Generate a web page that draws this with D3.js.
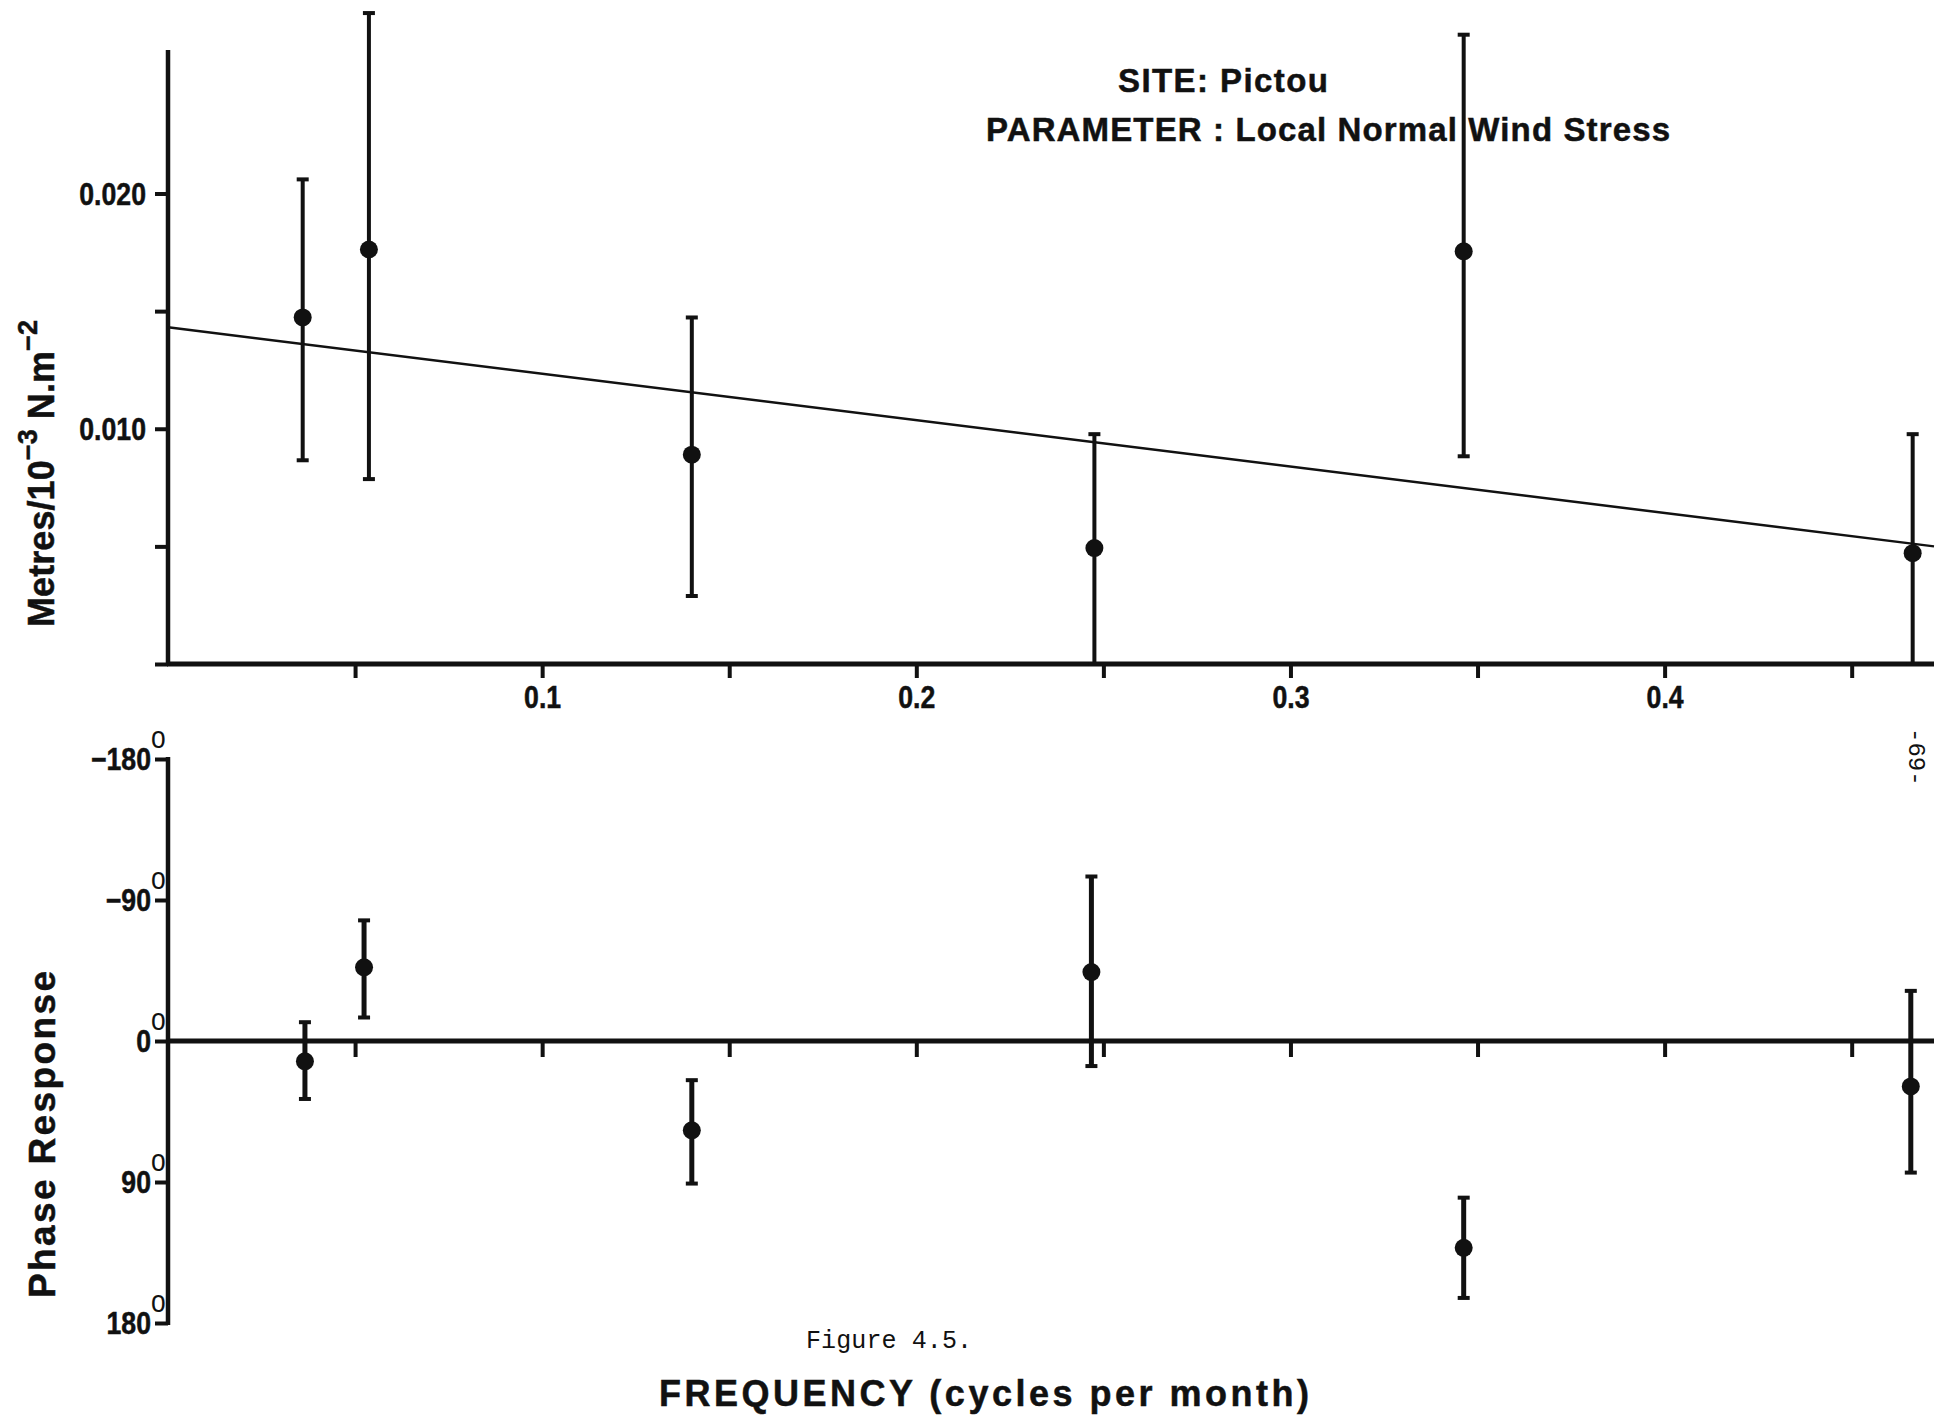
<!DOCTYPE html>
<html>
<head>
<meta charset="utf-8">
<script src="https://cdnjs.cloudflare.com/ajax/libs/d3/7.8.5/d3.min.js"></script>
<style>
  body { margin: 0; background: #fff; }
  svg text { fill: #111; }
  .lab { font-family: 'Liberation Sans', Arial, sans-serif; font-weight: bold; stroke: #111; stroke-width: 0.5px; }
  .ylab { font-family: 'Liberation Sans', Arial, sans-serif; font-weight: bold; stroke: #111; stroke-width: 0.5px; }
</style>
</head>
<body>
<div id="figure"></div>
<script>
// Amplitude response (metres per 10^-3 N.m^-2) against frequency (cycles per month)
var ampFreq  = [0.036, 0.0537, 0.140, 0.2476, 0.3463, 0.4663];
var ampValue = [0.01473, 0.01762, 0.0089, 0.00493, 0.01754, 0.00471];
var ampLow   = [0.00866, 0.00786, 0.00289, 0.0, 0.00883, 0.0];
var ampHigh  = [0.0206, 0.02767, 0.01473, 0.00977, 0.02675, 0.00977];

// fitted straight line through the amplitudes
var trendFreq  = [0, 0.472];
var trendValue = [0.01431, 0.0050];

// Phase response (degrees), positive is plotted downwards
var phaseFreq  = [0.0366, 0.0524, 0.140, 0.2468, 0.3463, 0.4658];
var phaseValue = [13, -47, 57, -44, 132, 29];
var phaseLow   = [-12, -77, 25, -105, 100, -32];
var phaseHigh  = [37, -15, 91, 16, 164, 84];

// ticks
var freqTicks  = [0.05, 0.1, 0.15, 0.2, 0.25, 0.3, 0.35, 0.4, 0.45];
var freqLabels = [0.1, 0.2, 0.3, 0.4];
var ampTicks   = [0, 0.005, 0.01, 0.015, 0.02];
var ampLabels  = [0.01, 0.02];
var phaseTicks = [-180, -90, 0, 90, 180];

var W = 1959, H = 1421;
var NARROW = 0.86; // horizontal squeeze to mimic the condensed numerals

var svg = d3.select('#figure').append('svg')
    .attr('width', W)
    .attr('height', H)
    .style('background', '#fff');

// shared frequency scale, the two panels use separate y scales
var x = d3.scaleLinear().domain([0, 0.472]).range([168, 1934]);
var yAmp = d3.scaleLinear().domain([0, 0.0261]).range([664, 50]);
var yPhase = d3.scaleLinear().domain([-180, 180]).range([759, 1323]);

top_panel();
bottom_panel();
annotations();

function top_panel(){
    // x axis with long ticks underneath
    var gx = svg.append('g')
        .attr('transform', 'translate(0,' + yAmp(0) + ')')
        .call(d3.axisBottom(x)
            .tickValues(freqTicks)
            .tickSize(14)
            .tickSizeOuter(0)
            .tickPadding(8)
            .tickFormat(function(d){ return freqLabels.indexOf(d) >= 0 ? d3.format('.1f')(d) : ''; }));
    style_axis(gx);
    condense(gx.selectAll('text'));

    svg.append('line')
        .attr('x1', x(0) - 1).attr('x2', x(0.472))
        .attr('y1', yAmp(0)).attr('y2', yAmp(0))
        .attr('stroke', '#111').attr('stroke-width', 5);

    // y axis
    var gy = svg.append('g')
        .attr('transform', 'translate(' + x(0) + ',0)')
        .call(d3.axisLeft(yAmp)
            .tickValues(ampTicks)
            .tickSize(13)
            .tickSizeOuter(0)
            .tickPadding(9)
            .tickFormat(function(d){ return ampLabels.indexOf(d) >= 0 ? d3.format('.3f')(d) : ''; }));
    style_axis(gy);
    gy.selectAll('text').attr('dy', '0.36em');
    condense(gy.selectAll('text'));

    svg.append('line')
        .attr('x1', x(0)).attr('x2', x(0))
        .attr('y1', yAmp(0) + 2).attr('y2', yAmp(0.0261))
        .attr('stroke', '#111').attr('stroke-width', 4.5);

    // fitted line
    var line = d3.line()
        .x(function(d, i){ return x(trendFreq[i]); })
        .y(function(d, i){ return yAmp(trendValue[i]); });
    svg.append('path')
        .datum(trendFreq)
        .attr('d', line)
        .attr('fill', 'none')
        .attr('stroke', '#111')
        .attr('stroke-width', 2.5);

    draw_errorbars(svg.append('g'), ampFreq, ampValue, ampLow, ampHigh, yAmp, 4);

    // y label
    var t = svg.append('text')
        .attr('class', 'ylab')
        .attr('transform', 'translate(54,627) rotate(-90)')
        .attr('font-size', 36)
        .attr('textLength', 307)
        .attr('lengthAdjust', 'spacing');
    t.append('tspan').text('Metres/10');
    t.append('tspan').attr('font-size', 27).attr('dy', -17).text('\u22123');
    t.append('tspan').attr('dy', 17).text(' N.m');
    t.append('tspan').attr('font-size', 27).attr('dy', -17).text('\u22122');
}

function bottom_panel(){
    // zero line with ticks hanging below it
    var gx = svg.append('g')
        .attr('transform', 'translate(0,' + yPhase(0) + ')')
        .call(d3.axisBottom(x)
            .tickValues(freqTicks)
            .tickSize(16)
            .tickSizeOuter(0)
            .tickFormat(''));
    style_axis(gx);

    svg.append('line')
        .attr('x1', x(0)).attr('x2', x(0.472))
        .attr('y1', yPhase(0)).attr('y2', yPhase(0))
        .attr('stroke', '#111').attr('stroke-width', 5);

    var gy = svg.append('g')
        .attr('transform', 'translate(' + x(0) + ',0)')
        .call(d3.axisLeft(yPhase)
            .tickValues(phaseTicks)
            .tickSize(13)
            .tickSizeOuter(0)
            .tickFormat(''));
    style_axis(gy);

    // degree labels: number then a raised 'o'
    gy.selectAll('.tick').each(function(d){
        var tick = d3.select(this);
        tick.append('text')
            .attr('class', 'lab')
            .attr('transform', 'translate(-17,10) scale(' + NARROW + ',1)')
            .attr('text-anchor', 'end')
            .attr('font-size', 31)
            .text(d < 0 ? '\u2212' + Math.abs(d) : d);
        tick.append('text')
            .attr('transform', 'translate(-17,-12) scale(0.85,1)')
            .attr('text-anchor', 'start')
            .attr('font-family', "'Liberation Sans', Arial, sans-serif")
            .attr('font-size', 31)
            .text('o');
    });

    svg.append('line')
        .attr('x1', x(0)).attr('x2', x(0))
        .attr('y1', yPhase(-180) - 2).attr('y2', yPhase(180) + 2)
        .attr('stroke', '#111').attr('stroke-width', 4.5);

    draw_errorbars(svg.append('g'), phaseFreq, phaseValue, phaseLow, phaseHigh, yPhase, 5);

    svg.append('text')
        .attr('class', 'ylab')
        .attr('transform', 'translate(55,1298) rotate(-90)')
        .attr('font-size', 37)
        .attr('textLength', 327)
        .attr('lengthAdjust', 'spacing')
        .text('Phase  Response');
}

function draw_errorbars(g, freq, val, lo, hi, y, sw){
    var idx = d3.range(freq.length);

    g.selectAll('.bar').data(idx).enter().append('line')
        .attr('x1', function(i){ return x(freq[i]); })
        .attr('x2', function(i){ return x(freq[i]); })
        .attr('y1', function(i){ return y(lo[i]); })
        .attr('y2', function(i){ return y(hi[i]); })
        .attr('stroke', '#111')
        .attr('stroke-width', sw);

    // caps at both ends
    [lo, hi].forEach(function(arr){
        g.selectAll(null).data(idx).enter().append('line')
            .attr('x1', function(i){ return x(freq[i]) - 6; })
            .attr('x2', function(i){ return x(freq[i]) + 6; })
            .attr('y1', function(i){ return y(arr[i]); })
            .attr('y2', function(i){ return y(arr[i]); })
            .attr('stroke', '#111')
            .attr('stroke-width', 4);
    });

    g.selectAll('.dot').data(idx).enter().append('circle')
        .attr('cx', function(i){ return x(freq[i]); })
        .attr('cy', function(i){ return y(val[i]); })
        .attr('r', 9)
        .attr('fill', '#111');
}

function style_axis(g){
    g.select('.domain').remove();
    g.selectAll('.tick line').attr('stroke', '#111').attr('stroke-width', 4);
    g.selectAll('text')
        .attr('class', 'lab')
        .attr('font-size', 31)
        .attr('fill', '#111');
}

// move a text's x/y into a transform so it can be squeezed sideways
function condense(sel){
    sel.each(function(){
        var t = d3.select(this);
        var tx = +t.attr('x') || 0, ty = +t.attr('y') || 0;
        t.attr('x', null).attr('y', null)
            .attr('transform', 'translate(' + tx + ',' + ty + ') scale(' + NARROW + ',1)');
    });
}

function annotations(){
    svg.append('text')
        .attr('class', 'lab')
        .attr('x', 1118).attr('y', 92)
        .attr('font-size', 33)
        .attr('textLength', 210)
        .attr('lengthAdjust', 'spacing')
        .text('SITE: Pictou');

    svg.append('text')
        .attr('class', 'lab')
        .attr('x', 986).attr('y', 141)
        .attr('font-size', 33)
        .attr('textLength', 684)
        .attr('lengthAdjust', 'spacing')
        .text('PARAMETER : Local Normal  Wind Stress');

    svg.append('text')
        .attr('x', 806).attr('y', 1348)
        .attr('font-family', "'Liberation Mono', monospace")
        .attr('font-size', 25)
        .attr('textLength', 166)
        .attr('lengthAdjust', 'spacing')
        .text('Figure 4.5.');

    svg.append('text')
        .attr('class', 'lab')
        .attr('x', 659).attr('y', 1406)
        .attr('font-size', 36)
        .attr('textLength', 650)
        .attr('lengthAdjust', 'spacing')
        .text('FREQUENCY  (cycles  per  month)');

    // page number, typed sideways
    svg.append('text')
        .attr('transform', 'translate(1909,728) rotate(90)')
        .attr('font-family', "'Liberation Mono', monospace")
        .attr('font-size', 24)
        .text('-69-');
}
</script>
</body>
</html>
